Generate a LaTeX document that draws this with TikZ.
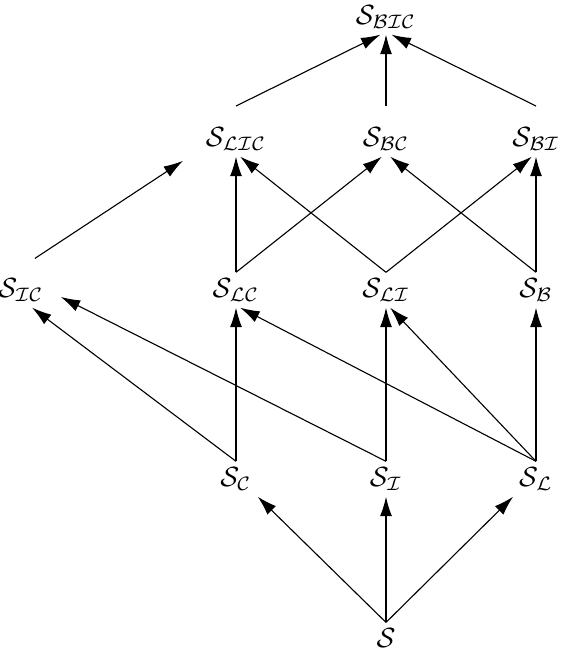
\documentclass[tikz,border=0pt]{standalone}
\usepackage{tikz}
\usetikzlibrary{arrows.meta}
\tikzset{>={Latex[length=7pt,width=4.3pt]}}
\tikzstyle{sspace}=[inner sep=2pt]
\tikzstyle{link}=[->,line width=0.4pt]

\begin{document}
\begin{tikzpicture}[x=0.36pt,y=-0.36pt]
\def \colA {21};
\def \colB {236};
\def \colC {386};
\def \colD {536};
\def \rowA {17};
\def \rowB {139};
\def \rowC {290};
\def \rowD {479};
\def \rowE {638};

\useasboundingbox (0,0) rectangle (560,652);

% the spaces, one row after the other
\foreach \n/\x/\y in {BIC/\colC/\rowA, LIC/\colB/\rowB, BC/\colC/\rowB, BI/\colD/\rowB,
	IC/\colA/\rowC, LC/\colB/\rowC, LI/\colC/\rowC, B/\colD/\rowC,
	C/\colB/\rowD, I/\colC/\rowD, L/\colD/\rowD} {
	\node[sspace] (\n) at (\x,\y) {$\mathcal{S}_{\mathcal{\n}}$};
};
\node[sspace] (S) at (\colC,\rowE) {$\mathcal{S}$};

% inclusions
\foreach \a/\b in {S/I, C/LC, I/LI, L/B, LC/LIC, B/BI} {
	\draw[link] (\a.north) -- (\b.south);
};

\foreach \a/\b/\s in {L/LC/1.5, L/LI/1.5, LI/LIC/1.5, B/BC/1.5, LC/BC/-1.5, LI/BI/-1.5, C/IC/4} {
	\draw[link] (\a.north) -- ([xshift=\s pt]\b.south);
};

\foreach \a/\s in {LIC/-2, BC/0, BI/2} {
	\draw[link] ([yshift=5.5pt]\a.north) -- ([xshift=\s pt]BIC.south);
};

\draw[link] (S.north) -- (C.south east);
\draw[link] (S.north) -- (L.south west);
\draw[link] (I.north) -- ([shift={(4pt,-2.5pt)}]IC.east);
\draw[link] ([shift={(5pt,5pt)}]IC.north) -- ([shift={(-6pt,-1.5pt)}]LIC.south west);

\end{tikzpicture}
\end{document}
